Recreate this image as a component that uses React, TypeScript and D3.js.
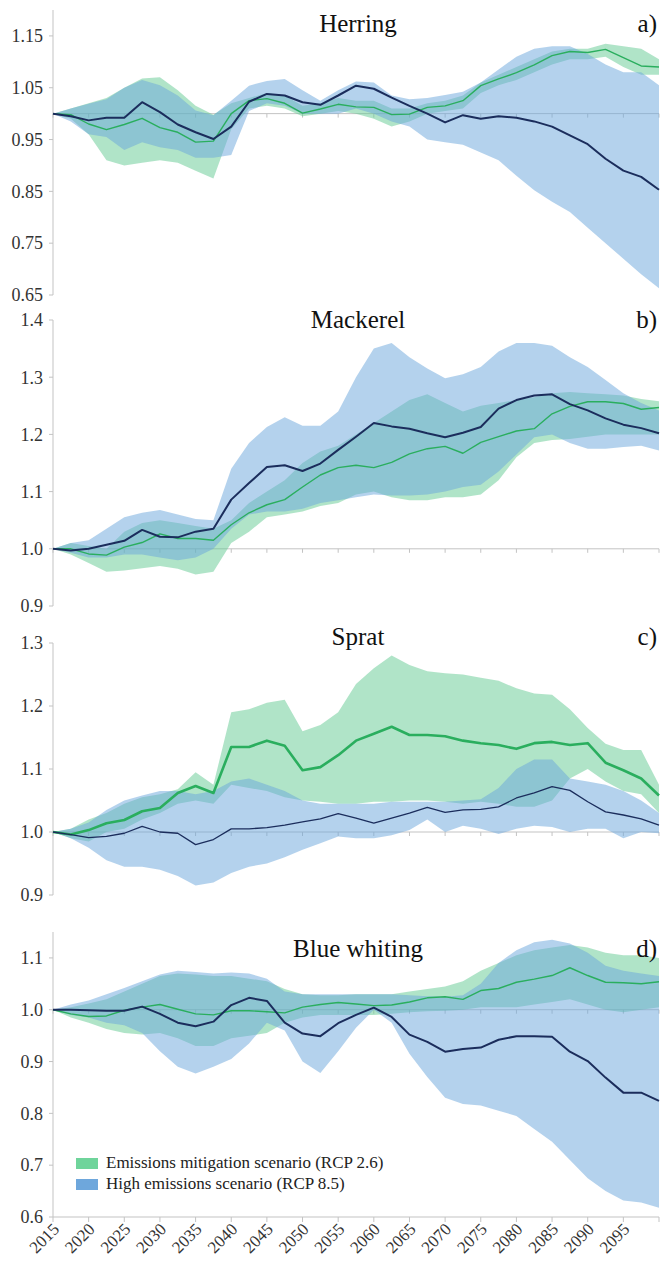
import React from "react";
import * as d3 from "d3";

// sample years (every 2.5 years)
const years = [
  2015, 2017.5, 2020, 2022.5, 2025, 2027.5, 2030, 2032.5, 2035, 2037.5, 2040, 2042.5,
  2045, 2047.5, 2050, 2052.5, 2055, 2057.5, 2060, 2062.5, 2065, 2067.5, 2070, 2072.5,
  2075, 2077.5, 2080, 2082.5, 2085, 2087.5, 2090, 2092.5, 2095, 2097.5, 2100,
];
const yearTicks = [2015, 2020, 2025, 2030, 2035, 2040, 2045, 2050, 2055, 2060, 2065, 2070, 2075, 2080, 2085, 2090, 2095, 2100];
const yearLabels = [2015, 2020, 2025, 2030, 2035, 2040, 2045, 2050, 2055, 2060, 2065, 2070, 2075, 2080, 2085, 2090, 2095];

// Herring
const herringTicks = [0.65, 0.75, 0.85, 0.95, 1.05, 1.15];
const herring26 = [1.0, 0.998, 0.98, 0.969, 0.979, 0.991, 0.973, 0.964, 0.945, 0.947, 1.0, 1.025, 1.029, 1.02, 1.001, 1.009, 1.018, 1.013, 1.012, 0.998, 0.999, 1.012, 1.015, 1.025, 1.054, 1.067, 1.079, 1.094, 1.112, 1.12, 1.118, 1.124, 1.108, 1.092, 1.09];
const herring26Hi = [1.0, 1.01, 1.02, 1.03, 1.05, 1.068, 1.07, 1.045, 1.015, 0.998, 1.02, 1.03, 1.04, 1.035, 1.015, 1.02, 1.03, 1.025, 1.025, 1.01, 1.01, 1.02, 1.025, 1.035, 1.06, 1.075, 1.09, 1.105, 1.12, 1.125, 1.125, 1.135, 1.13, 1.125, 1.105];
const herring26Lo = [1.0, 0.99, 0.96, 0.91, 0.9, 0.905, 0.91, 0.905, 0.89, 0.875, 0.97, 1.01, 1.015, 1.01, 0.995, 1.0, 1.005, 1.0, 0.99, 0.975, 0.985, 1.0, 1.005, 1.01, 1.04, 1.055, 1.065, 1.08, 1.095, 1.105, 1.105, 1.11, 1.09, 1.075, 1.075];
const herring85 = [1.0, 0.995, 0.987, 0.992, 0.992, 1.022, 1.003, 0.979, 0.964, 0.951, 0.975, 1.023, 1.038, 1.035, 1.022, 1.017, 1.035, 1.054, 1.048, 1.031, 1.015, 1.0, 0.983, 0.997, 0.99, 0.995, 0.992, 0.985, 0.975, 0.958, 0.941, 0.913, 0.89, 0.878, 0.853];
const herring85Hi = [1.0, 1.01, 1.019, 1.028, 1.05, 1.065, 1.055, 1.035, 1.006, 0.997, 1.025, 1.054, 1.063, 1.067, 1.045, 1.025, 1.045, 1.062, 1.06, 1.035, 1.028, 1.03, 1.036, 1.042, 1.06, 1.085, 1.11, 1.125, 1.13, 1.13, 1.115, 1.095, 1.08, 1.08, 1.055];
const herring85Lo = [1.0, 0.985, 0.96, 0.955, 0.93, 0.945, 0.935, 0.93, 0.915, 0.915, 0.92, 1.005, 1.02, 1.015, 1.0, 1.0, 1.0, 1.01, 1.0, 0.985, 0.975, 0.95, 0.945, 0.94, 0.925, 0.91, 0.88, 0.852, 0.83, 0.81, 0.78, 0.75, 0.72, 0.69, 0.663];

// Mackerel
const mackerelTicks = [0.9, 1.0, 1.1, 1.2, 1.3, 1.4];
const mackerel26 = [1.0, 1.0, 0.991, 0.989, 1.003, 1.011, 1.026, 1.018, 1.018, 1.015, 1.042, 1.063, 1.077, 1.086, 1.108, 1.129, 1.142, 1.146, 1.142, 1.151, 1.166, 1.175, 1.179, 1.167, 1.186, 1.196, 1.206, 1.21, 1.236, 1.249, 1.257, 1.257, 1.254, 1.244, 1.247];
const mackerel26Hi = [1.0, 1.01, 1.005, 1.0, 1.03, 1.045, 1.05, 1.045, 1.04, 1.035, 1.05, 1.08, 1.1, 1.12, 1.15, 1.17, 1.18, 1.2, 1.22, 1.24, 1.26, 1.27, 1.255, 1.24, 1.25, 1.255, 1.26, 1.265, 1.272, 1.274, 1.272, 1.27, 1.268, 1.262, 1.258];
const mackerel26Lo = [1.0, 0.99, 0.975, 0.96, 0.962, 0.966, 0.97, 0.965, 0.955, 0.96, 1.01, 1.03, 1.055, 1.06, 1.065, 1.075, 1.08, 1.095, 1.1, 1.09, 1.085, 1.085, 1.09, 1.09, 1.095, 1.12, 1.16, 1.185, 1.19, 1.192, 1.196, 1.2, 1.2, 1.2, 1.2];
const mackerel85 = [1.0, 0.997, 1.0, 1.007, 1.014, 1.033, 1.021, 1.02, 1.03, 1.035, 1.086, 1.115, 1.143, 1.146, 1.136, 1.149, 1.173, 1.196, 1.22, 1.214, 1.21, 1.202, 1.195, 1.203, 1.213, 1.245, 1.26, 1.268, 1.27, 1.253, 1.242, 1.228, 1.217, 1.211, 1.202];
const mackerel85Hi = [1.0, 1.01, 1.015, 1.035, 1.055, 1.063, 1.068, 1.06, 1.052, 1.05, 1.14, 1.185, 1.213, 1.23, 1.215, 1.215, 1.24, 1.3, 1.35, 1.36, 1.335, 1.315, 1.298, 1.305, 1.318, 1.345, 1.36, 1.36, 1.355, 1.335, 1.318, 1.295, 1.272, 1.255, 1.242];
const mackerel85Lo = [1.0, 0.993, 0.985, 0.985, 0.99, 0.99, 0.985, 0.98, 0.985, 1.0, 1.035, 1.06, 1.065, 1.065, 1.07, 1.08, 1.085, 1.09, 1.095, 1.093, 1.093, 1.095, 1.1, 1.108, 1.112, 1.135, 1.165, 1.195, 1.2, 1.185, 1.175, 1.175, 1.178, 1.18, 1.172];

// Sprat
const spratTicks = [0.9, 1.0, 1.1, 1.2, 1.3];
const sprat26 = [1.0, 0.996, 1.003, 1.014, 1.019, 1.033, 1.038, 1.062, 1.073, 1.062, 1.135, 1.135, 1.145, 1.137, 1.098, 1.103, 1.122, 1.145, 1.156, 1.167, 1.154, 1.154, 1.152, 1.145, 1.141, 1.138, 1.132, 1.141, 1.143, 1.138, 1.141, 1.11, 1.098, 1.085, 1.058];
const sprat26Hi = [1.0, 1.005, 1.02, 1.03, 1.045, 1.055, 1.06, 1.068, 1.095, 1.075, 1.19, 1.195, 1.205, 1.21, 1.16, 1.17, 1.19, 1.235, 1.26, 1.28, 1.265, 1.255, 1.252, 1.25, 1.245, 1.24, 1.228, 1.22, 1.218, 1.195, 1.165, 1.14, 1.13, 1.13, 1.075];
const sprat26Lo = [1.0, 0.99, 0.985, 1.0, 1.005, 1.02, 1.03, 1.045, 1.05, 1.045, 1.075, 1.07, 1.065, 1.055, 1.05, 1.048, 1.045, 1.045, 1.048, 1.048, 1.05, 1.05, 1.048, 1.045, 1.048, 1.045, 1.04, 1.04, 1.05, 1.085, 1.1, 1.08, 1.065, 1.06, 1.03];
const sprat85 = [1.0, 0.996, 0.991, 0.993, 0.998, 1.009, 1.0, 0.998, 0.98, 0.988, 1.005, 1.005, 1.007, 1.011, 1.016, 1.021, 1.029, 1.022, 1.014, 1.022, 1.03, 1.039, 1.031, 1.035, 1.036, 1.04, 1.054, 1.062, 1.072, 1.066, 1.048, 1.032, 1.027, 1.021, 1.011];
const sprat85Hi = [1.0, 1.005, 1.015, 1.035, 1.05, 1.058, 1.065, 1.065, 1.06, 1.065, 1.08, 1.085, 1.075, 1.065, 1.05, 1.045, 1.045, 1.045, 1.045, 1.048, 1.048, 1.048, 1.048, 1.05, 1.052, 1.07, 1.1, 1.115, 1.115, 1.085, 1.08, 1.075, 1.065, 1.05, 1.03];
const sprat85Lo = [1.0, 0.99, 0.975, 0.955, 0.945, 0.945, 0.94, 0.93, 0.915, 0.92, 0.935, 0.945, 0.95, 0.96, 0.972, 0.982, 0.993, 0.99, 0.99, 0.995, 1.003, 1.02, 1.0, 1.01, 1.005, 0.997, 1.005, 1.01, 1.008, 1.0, 1.005, 1.005, 0.99, 1.0, 0.998];

// Blue whiting
const whitingTicks = [0.6, 0.7, 0.8, 0.9, 1.0, 1.1];
const whiting26 = [1.0, 0.992, 0.987, 0.988, 0.999, 1.005, 1.01, 1.001, 0.992, 0.99, 0.998, 0.998, 0.996, 0.994, 1.005, 1.01, 1.014, 1.011, 1.008, 1.009, 1.015, 1.023, 1.025, 1.02, 1.037, 1.041, 1.053, 1.059, 1.066, 1.081, 1.066, 1.053, 1.052, 1.05, 1.054];
const whiting26Hi = [1.0, 1.005, 1.012, 1.02, 1.035, 1.05, 1.065, 1.07, 1.068, 1.065, 1.065, 1.06, 1.055, 1.04, 1.03, 1.028, 1.028, 1.03, 1.03, 1.03, 1.035, 1.04, 1.045, 1.055, 1.075, 1.09, 1.105, 1.115, 1.12, 1.125, 1.12, 1.11, 1.105, 1.105, 1.1];
const whiting26Lo = [1.0, 0.985, 0.975, 0.963, 0.955, 0.952, 0.955, 0.945, 0.93, 0.93, 0.945, 0.95, 0.955, 0.975, 0.985, 0.99, 0.99, 0.99, 0.99, 0.992, 0.995, 0.997, 0.998, 1.0, 1.005, 1.005, 1.005, 1.01, 1.015, 1.02, 1.01, 1.0, 0.995, 1.0, 1.005];
const whiting85 = [1.0, 1.0, 0.999, 0.998, 0.998, 1.006, 0.992, 0.975, 0.968, 0.977, 1.009, 1.023, 1.017, 0.975, 0.954, 0.949, 0.974, 0.99, 1.004, 0.986, 0.952, 0.938, 0.919, 0.924, 0.927, 0.942, 0.949, 0.949, 0.948, 0.919, 0.901, 0.869, 0.84, 0.84, 0.824];
const whiting85Hi = [1.0, 1.01, 1.018, 1.03, 1.042, 1.055, 1.068, 1.075, 1.073, 1.07, 1.072, 1.07, 1.06, 1.035, 1.03, 1.03, 1.03, 1.03, 1.03, 1.03, 1.028, 1.026, 1.025, 1.028, 1.05, 1.09, 1.115, 1.13, 1.135, 1.128, 1.11, 1.085, 1.075, 1.07, 1.065];
const whiting85Lo = [1.0, 0.99, 0.985, 0.975, 0.97, 0.955, 0.92, 0.89, 0.877, 0.89, 0.905, 0.935, 0.975, 0.96, 0.9, 0.878, 0.92, 0.965, 1.0, 0.975, 0.915, 0.87, 0.83, 0.818, 0.815, 0.805, 0.795, 0.77, 0.745, 0.71, 0.675, 0.65, 0.632, 0.628, 0.618];

const legendItems = [
  { label: "Emissions mitigation scenario (RCP 2.6)", color: "#6fd49b" },
  { label: "High emissions scenario (RCP 8.5)", color: "#6ea7dc" },
];

const FONT = '"Times New Roman", Times, "Liberation Serif", Tinos, "DejaVu Serif", "Noto Serif", serif';
const GREEN_BAND = "#62ca92";
const BLUE_BAND = "#6aa6dc";
const GREEN_LINE = "#2aae5e";
const BLUE_LINE = "#1b2d5c";
const AXIS = "#c3c3c3";

const panels = [
  {
    title: "Herring", tag: "a)", titleY: 32, domain: [0.65, 1.2], range: [295, 10], ticks: herringTicks, digits: 2,
    g: herring26, gHi: herring26Hi, gLo: herring26Lo, b: herring85, bHi: herring85Hi, bLo: herring85Lo,
    gWidth: 1.4, bWidth: 2, bottomAxis: false,
  },
  {
    title: "Mackerel", tag: "b)", titleY: 328, domain: [0.9, 1.4], range: [606, 320], ticks: mackerelTicks, digits: 1,
    g: mackerel26, gHi: mackerel26Hi, gLo: mackerel26Lo, b: mackerel85, bHi: mackerel85Hi, bLo: mackerel85Lo,
    gWidth: 1.4, bWidth: 2, bottomAxis: false,
  },
  {
    title: "Sprat", tag: "c)", titleY: 645, domain: [0.9, 1.3], range: [895, 643], ticks: spratTicks, digits: 1,
    g: sprat26, gHi: sprat26Hi, gLo: sprat26Lo, b: sprat85, bHi: sprat85Hi, bLo: sprat85Lo,
    gWidth: 2.6, bWidth: 1.3, bottomAxis: false,
  },
  {
    title: "Blue whiting", tag: "d)", titleY: 957, domain: [0.6, 1.15], range: [1217, 932], ticks: whitingTicks, digits: 1,
    g: whiting26, gHi: whiting26Hi, gLo: whiting26Lo, b: whiting85, bHi: whiting85Hi, bLo: whiting85Lo,
    gWidth: 1.4, bWidth: 2, bottomAxis: true,
  },
];

const xScale = d3.scaleLinear().domain([2015, 2100]).range([53, 659]);

function Panel({ p }) {
  const y = d3.scaleLinear().domain(p.domain).range(p.range);
  const idx = d3.range(years.length);
  const band = (lo, hi) =>
    d3.area().x((i) => xScale(years[i])).y0((i) => y(lo[i])).y1((i) => y(hi[i]))(idx);
  const line = (v) => d3.line().x((i) => xScale(years[i])).y((i) => y(v[i]))(idx);
  const x0 = xScale(2015);
  const yOne = y(1);
  const yBottom = p.range[0];

  return (
    <g>
      {/* axes */}
      <line x1={x0} x2={x0} y1={p.range[1]} y2={yBottom} stroke={AXIS} strokeWidth={1} />
      {p.ticks.map((t) => (
        <g key={t}>
          <line x1={x0 - 4} x2={x0} y1={y(t)} y2={y(t)} stroke={AXIS} />
          <text x={43} y={y(t)} dy="0.35em" textAnchor="end" fontSize={18} fill="#333" style={{ fontFamily: FONT }}>
            {t.toFixed(p.digits)}
          </text>
        </g>
      ))}
      <line x1={x0} x2={xScale(2100)} y1={yOne} y2={yOne} stroke={AXIS} strokeWidth={1} />
      {yearTicks.map((t) => (
        <line key={t} x1={xScale(t)} x2={xScale(t)} y1={yOne} y2={yOne + 4} stroke={AXIS} />
      ))}
      {p.bottomAxis && (
        <g>
          <line x1={x0} x2={xScale(2100)} y1={yBottom} y2={yBottom} stroke={AXIS} />
          {yearTicks.map((t) => (
            <line key={t} x1={xScale(t)} x2={xScale(t)} y1={yBottom} y2={yBottom + 5} stroke={AXIS} />
          ))}
          {yearLabels.map((t) => (
            <text
              key={t}
              transform={`translate(${xScale(t) + 3},${yBottom + 9}) rotate(-45)`}
              dy="0.35em"
              textAnchor="end"
              fontSize={17}
              fill="#333"
              style={{ fontFamily: FONT }}
            >
              {t}
            </text>
          ))}
        </g>
      )}

      {/* uncertainty bands */}
      <path d={band(p.gLo, p.gHi)} fill={GREEN_BAND} fillOpacity={0.5} />
      <path d={band(p.bLo, p.bHi)} fill={BLUE_BAND} fillOpacity={0.5} />

      {/* median lines */}
      <path d={line(p.g)} fill="none" stroke={GREEN_LINE} strokeWidth={p.gWidth} strokeLinejoin="round" />
      <path d={line(p.b)} fill="none" stroke={BLUE_LINE} strokeWidth={p.bWidth} strokeLinejoin="round" />

      <text x={358} y={p.titleY} textAnchor="middle" fontSize={25} fill="#111" style={{ fontFamily: FONT }}>
        {p.title}
      </text>
      <text x={657} y={p.titleY} textAnchor="end" fontSize={25} fill="#111" style={{ fontFamily: FONT }}>
        {p.tag}
      </text>
    </g>
  );
}

export default function App() {
  return (
    <svg width={660} height={1264} style={{ position: "absolute", left: 0, top: 0, background: "#fff" }}>
      {panels.map((p) => (
        <Panel key={p.title} p={p} />
      ))}
      {legendItems.map((item, i) => (
        <g key={item.label}>
          <rect x={76} y={1158 + i * 21} width={22} height={11} fill={item.color} />
          <text x={106} y={1168 + i * 21} fontSize={17} fill="#222" style={{ fontFamily: FONT }}>
            {item.label}
          </text>
        </g>
      ))}
    </svg>
  );
}
